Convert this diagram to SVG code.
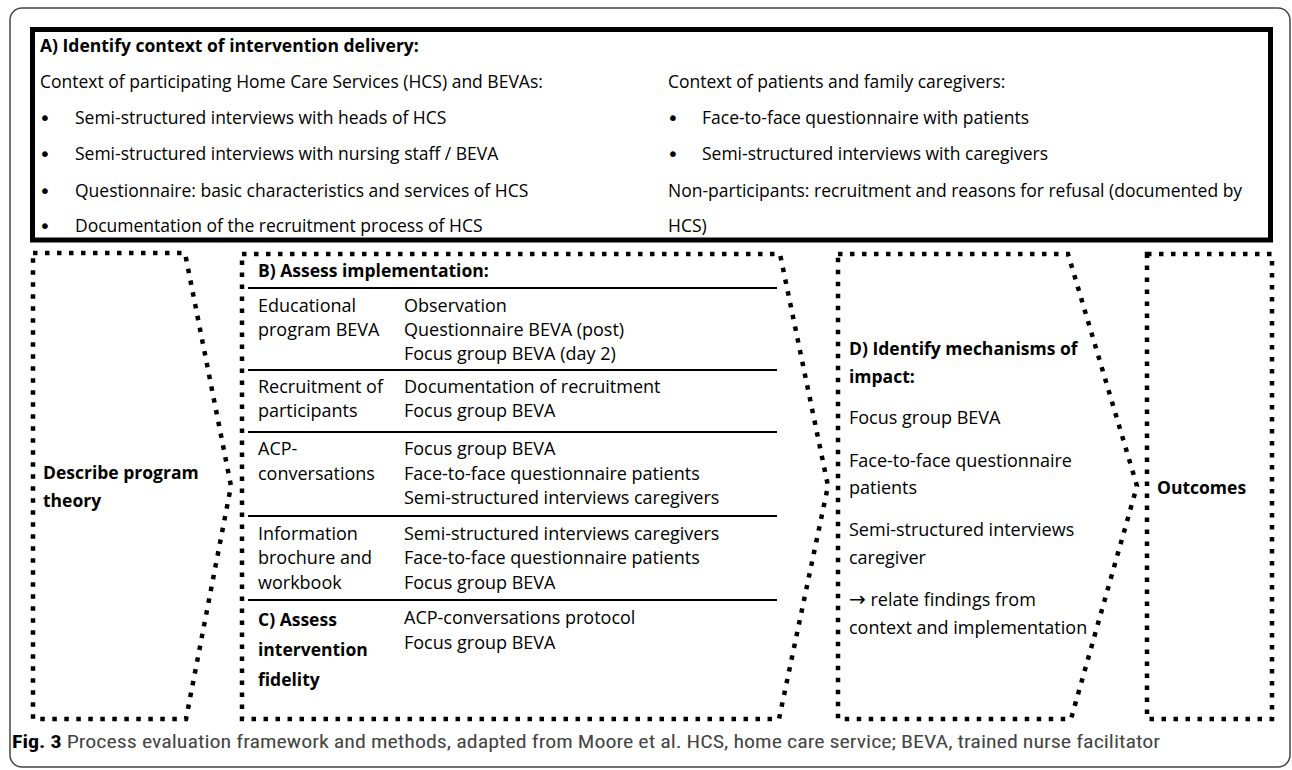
<svg xmlns="http://www.w3.org/2000/svg" width="1292" height="770" viewBox="0 0 1292 770">
<style>
text{font-family:"Open Sans","Liberation Sans",sans-serif;font-size:17.5px;fill:#000}
.b{font-weight:bold}
.m{font-size:18px}
.bul{font-family:"DejaVu Sans",sans-serif;font-size:20px}
.dot{fill:none;stroke:#000;stroke-width:4.5;stroke-dasharray:4.5 7.5}
.rule{stroke:#000;stroke-width:2}
.cap{font-family:"Liberation Sans Narrow","Roboto Condensed","Liberation Sans",sans-serif;font-size:18px;fill:#444}
</style>
<rect x="10" y="8" width="1280" height="759" rx="12" fill="#fff" stroke="#444" stroke-width="1.5"/>

<g id="nodeA">
<rect x="32.5" y="29.5" width="1238" height="210.5" fill="#fff" stroke="#000" stroke-width="5"/>
<text class="b" x="40" y="52">A) Identify context of intervention delivery:</text>
<text x="40" y="88">Context of participating Home Care Services (HCS) and BEVAs:</text>
<text class="bul" x="39" y="125">•</text><text x="75" y="124">Semi-structured interviews with heads of HCS</text>
<text class="bul" x="39" y="161">•</text><text x="75" y="160">Semi-structured interviews with nursing staff / BEVA</text>
<text class="bul" x="39" y="198">•</text><text x="75" y="197">Questionnaire: basic characteristics and services of HCS</text>
<text class="bul" x="39" y="233">•</text><text x="75" y="232">Documentation of the recruitment process of HCS</text>
<text x="668" y="88">Context of patients and family caregivers:</text>
<text class="bul" x="667" y="125">•</text><text x="702" y="124">Face-to-face questionnaire with patients</text>
<text class="bul" x="667" y="161">•</text><text x="702" y="160">Semi-structured interviews with caregivers</text>
<text x="668" y="197">Non-participants: recruitment and reasons for refusal (documented by</text>
<text x="668" y="232">HCS)</text>
</g>

<g id="nodeTheory">
<path class="dot" d="M33,253 L185,253 L231,486 L186,719 L33,719 Z"/>
<text class="b" x="43" y="479">Describe program</text>
<text class="b" x="43" y="507">theory</text>
</g>

<g id="nodeB">
<path class="dot" d="M242,254 L780,254 L828,486 L779,719 L242,719 Z"/>
<text class="b" x="258" y="277">B) Assess implementation:</text>
<line class="rule" x1="248" y1="288" x2="777" y2="288"/>
<text class="m" x="258" y="312">Educational</text>
<text class="m" x="258" y="336">program BEVA</text>
<text class="m" x="404" y="312">Observation</text>
<text class="m" x="404" y="336">Questionnaire BEVA (post)</text>
<text class="m" x="404" y="360">Focus group BEVA (day 2)</text>
<line class="rule" x1="248" y1="370" x2="777" y2="370"/>
<text class="m" x="258" y="393">Recruitment of</text>
<text class="m" x="258" y="417">participants</text>
<text class="m" x="404" y="393">Documentation of recruitment</text>
<text class="m" x="404" y="417">Focus group BEVA</text>
<line class="rule" x1="248" y1="432" x2="777" y2="432"/>
<text class="m" x="258" y="455">ACP-</text>
<text class="m" x="258" y="480">conversations</text>
<text class="m" x="404" y="455">Focus group BEVA</text>
<text class="m" x="404" y="480">Face-to-face questionnaire patients</text>
<text class="m" x="404" y="504">Semi-structured interviews caregivers</text>
<line class="rule" x1="248" y1="516" x2="777" y2="516"/>
<text class="m" x="258" y="540">Information</text>
<text class="m" x="258" y="564">brochure and</text>
<text class="m" x="258" y="589">workbook</text>
<text class="m" x="404" y="540">Semi-structured interviews caregivers</text>
<text class="m" x="404" y="564">Face-to-face questionnaire patients</text>
<text class="m" x="404" y="589">Focus group BEVA</text>
<line class="rule" x1="248" y1="600" x2="777" y2="600"/>
</g>

<g id="nodeC">
<text class="b" x="258" y="626">C) Assess</text>
<text class="b" x="258" y="656">intervention</text>
<text class="b" x="258" y="686">fidelity</text>
<text class="m" x="404" y="624">ACP-conversations protocol</text>
<text class="m" x="404" y="649">Focus group BEVA</text>
</g>

<g id="nodeD">
<path class="dot" d="M838,254 L1068,254 L1137,486 L1071,719 L838,719 Z"/>
<text class="b" x="849" y="355">D) Identify mechanisms of</text>
<text class="b" x="849" y="383">impact:</text>
<text class="m" x="849" y="424">Focus group BEVA</text>
<text class="m" x="849" y="467">Face-to-face questionnaire</text>
<text class="m" x="849" y="494">patients</text>
<text class="m" x="849" y="536">Semi-structured interviews</text>
<text class="m" x="849" y="564">caregiver</text>
<text class="m" x="849" y="606"><tspan font-family="DejaVu Sans, sans-serif" font-size="20">→</tspan> relate findings from</text>
<text class="m" x="849" y="634">context and implementation</text>
</g>

<g id="nodeOutcomes">
<rect class="dot" x="1147" y="254" width="125" height="465"/>
<text class="b" x="1157" y="494">Outcomes</text>
</g>

<g id="connectors"></g>

<text class="cap" x="12" y="748" textLength="1148" lengthAdjust="spacingAndGlyphs"><tspan font-weight="bold" fill="#000">Fig. 3</tspan> Process evaluation framework and methods, adapted from Moore et al. HCS, home care service; BEVA, trained nurse facilitator</text>
</svg>
